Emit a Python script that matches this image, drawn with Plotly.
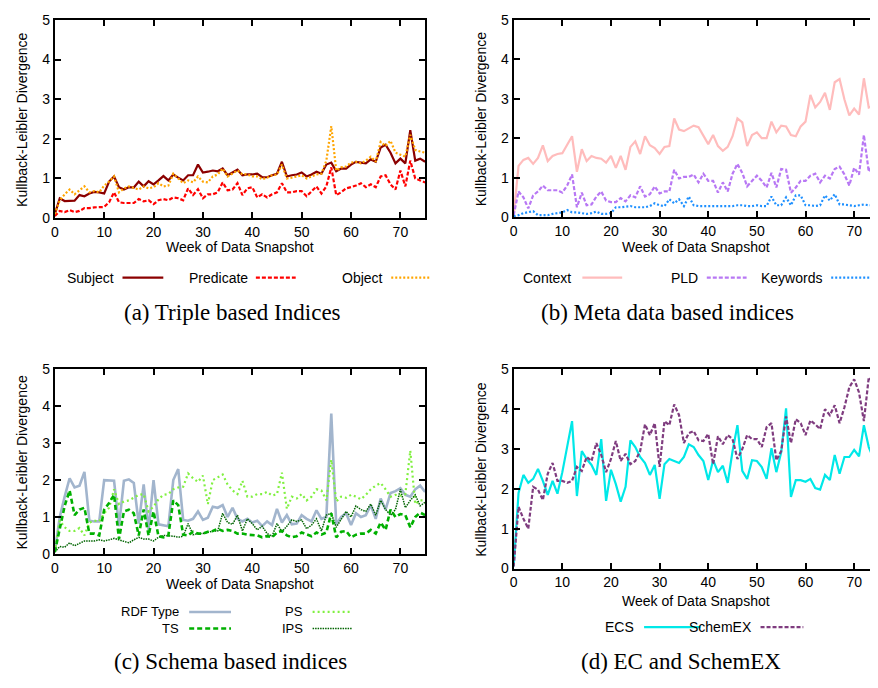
import plotly.graph_objects as go

OFF = 8                           # page body margin of the browser
W, H = 878 - OFF, 688 - 2 * OFF   # figure size so the page fits the window exactly
WEEKS = list(range(76))

# (a) Triple based indices
SUBJECT = [0.1,0.5,0.43,0.44,0.44,0.58,0.55,0.62,0.66,0.65,0.62,0.92,1.05,0.78,0.72,0.78,0.77,0.92,0.8,0.93,
           0.85,0.95,1.06,0.95,1.1,1.02,0.95,1.08,1.08,1.35,1.15,1.17,1.2,1.18,1.25,1.08,1.15,1.22,1.08,1.1,
           1.1,1.12,1.03,1.03,1.08,1.12,1.42,1.05,1.08,1.1,1.15,1.05,1.1,1.17,1.12,1.35,1.4,1.18,1.25,1.25,
           1.35,1.42,1.4,1.38,1.48,1.42,1.78,1.85,1.65,1.38,1.5,1.38,2.22,1.45,1.5,1.42]
PREDICATE = [0.05,0.18,0.15,0.2,0.15,0.18,0.25,0.25,0.27,0.27,0.28,0.4,0.65,0.4,0.38,0.38,0.38,0.48,0.42,0.45,
             0.35,0.45,0.48,0.45,0.52,0.5,0.45,0.75,0.58,0.73,0.5,0.6,0.6,0.65,0.9,0.7,0.72,0.88,0.58,0.75,
             0.78,0.52,0.6,0.52,0.6,0.65,0.88,0.65,0.65,0.68,0.68,0.55,0.68,0.8,0.62,0.8,1.28,0.58,0.65,0.75,
             0.78,0.82,0.88,0.78,0.85,0.78,1.05,1.08,0.85,0.72,1.2,0.8,1.45,1.0,0.95,0.9]
OBJECT = [0.1,0.45,0.6,0.72,0.6,0.7,0.8,0.65,0.68,0.65,0.82,0.92,1.05,0.65,0.75,0.8,0.75,0.72,0.8,0.75,
          0.78,0.88,0.8,0.82,1.12,1.0,0.88,0.95,0.9,1.05,0.92,0.9,1.05,1.1,1.25,1.05,1.12,1.2,1.1,1.1,
          1.05,1.05,0.98,1.02,1.08,1.1,1.35,1.0,1.02,1.05,1.08,1.0,1.05,1.1,1.12,1.45,2.32,1.2,1.28,1.3,
          1.4,1.42,1.38,1.45,1.55,1.42,1.92,1.82,1.95,1.65,1.6,1.55,2.1,1.72,1.68,1.65]

# (b) Meta data based indices
CONTEXT = [0.05,1.3,1.45,1.5,1.35,1.5,1.82,1.42,1.55,1.6,1.62,1.85,2.05,1.15,1.72,1.42,1.55,1.5,1.48,1.38,
           1.55,1.25,1.55,1.2,1.78,1.92,1.6,2.05,1.82,1.75,1.6,1.78,1.8,2.5,2.22,2.18,2.25,2.32,2.28,2.05,
           1.85,2.08,1.8,1.68,1.78,2.05,2.5,2.4,1.8,2.08,2.15,2.0,2.0,2.42,2.15,2.32,2.3,2.08,2.05,2.3,
           2.42,3.1,2.78,2.92,3.15,2.72,3.42,3.5,2.98,2.58,2.75,2.6,3.52,2.78,2.82,2.55]
PLD = [0.05,0.65,0.5,0.22,0.55,0.65,0.8,0.68,0.68,0.68,0.62,0.8,1.08,0.25,0.62,0.3,0.32,0.52,0.65,0.42,
       0.38,0.38,0.48,0.4,0.55,0.5,0.78,0.52,0.58,0.78,0.6,0.65,0.65,1.2,0.98,1.02,1.02,1.08,0.88,1.1,
       0.92,0.92,0.62,0.88,0.65,1.1,1.35,1.12,0.78,0.92,1.05,0.92,0.75,1.12,0.75,1.22,1.2,0.62,0.75,0.92,
       0.92,1.05,1.1,0.88,1.05,0.98,1.22,1.28,1.08,0.8,1.25,1.08,2.08,1.15,1.38,0.95]
KEYWORDS = [0.02,0.05,0.1,0.12,0.15,0.05,0.05,0.05,0.08,0.1,0.12,0.18,0.12,0.12,0.1,0.08,0.1,0.14,0.08,0.08,
            0.1,0.25,0.25,0.27,0.28,0.25,0.25,0.25,0.28,0.35,0.3,0.28,0.45,0.35,0.45,0.28,0.52,0.3,0.28,0.28,
            0.28,0.28,0.28,0.28,0.28,0.28,0.3,0.3,0.28,0.28,0.3,0.28,0.28,0.52,0.3,0.3,0.5,0.3,0.55,0.55,
            0.3,0.3,0.28,0.3,0.55,0.42,0.58,0.32,0.32,0.3,0.28,0.3,0.32,0.3,0.3,0.28]

# (c) Schema based indices
RDF_TYPE = [0.05,1.0,1.55,2.05,1.8,1.85,2.22,0.9,0.88,0.88,2.0,2.0,1.98,0.75,1.98,2.02,1.92,0.82,1.88,0.65,
            2.0,0.8,0.78,0.75,2.0,2.3,0.92,0.9,0.95,1.15,0.92,0.98,1.28,1.25,1.32,1.0,1.25,0.95,0.88,0.95,
            0.85,0.9,0.75,0.88,0.78,1.22,0.85,1.05,0.8,0.82,1.05,0.95,0.88,1.18,0.95,1.0,3.8,0.8,1.0,1.1,
            0.78,1.1,1.0,1.05,1.32,0.95,1.5,1.2,1.65,1.7,1.78,1.6,1.55,1.75,1.85,1.68]
TS = [0.05,0.7,1.3,1.72,1.05,1.2,1.25,0.55,0.55,0.5,1.2,1.38,1.6,0.4,1.15,1.2,1.1,0.5,1.2,0.5,
      1.15,0.48,0.45,0.5,1.45,1.32,0.52,0.5,0.6,0.55,0.55,0.6,0.62,0.68,0.62,0.65,0.62,0.55,0.55,0.52,
      0.5,0.5,0.45,0.48,0.45,0.58,0.62,0.5,0.45,0.48,0.58,0.52,0.48,0.58,0.52,0.58,1.1,0.45,0.6,0.62,
      0.45,0.52,0.55,0.55,0.65,0.55,0.85,0.65,1.2,1.0,1.08,1.05,0.72,1.0,1.12,1.05]
PS = [0.05,0.9,0.72,0.62,0.62,0.7,0.5,0.85,0.9,0.88,1.1,1.25,1.75,1.35,1.42,1.45,1.52,1.6,1.62,1.15,
      1.28,1.48,1.6,1.62,1.75,1.8,1.82,2.18,2.05,1.95,2.12,1.35,2.0,2.08,2.15,1.88,1.72,1.62,1.98,1.55,
      1.55,1.62,1.62,1.68,1.58,1.62,2.2,1.22,1.55,1.5,1.62,1.45,1.55,1.75,1.72,1.45,2.55,1.42,1.55,1.52,
      1.6,1.55,1.48,1.6,1.75,1.85,1.92,1.75,1.55,1.6,1.58,1.62,2.8,1.35,1.45,1.45]
IPS = [0.05,0.2,0.18,0.3,0.22,0.28,0.35,0.35,0.35,0.38,0.35,0.38,0.42,0.38,0.35,0.3,0.38,0.45,0.4,0.4,
       0.35,0.45,0.5,0.5,0.48,0.45,0.48,0.82,0.52,0.55,0.55,0.58,0.62,0.62,1.1,0.85,0.8,1.05,0.62,0.95,
       0.82,0.65,0.75,0.55,0.48,0.82,0.6,0.75,0.92,0.88,0.92,0.68,0.78,0.95,0.62,1.05,1.1,0.72,0.95,1.15,
       1.0,1.3,1.2,1.15,1.35,1.05,1.45,1.2,1.05,1.2,1.75,1.25,1.45,1.6,1.3,1.4]

# (d) EC and SchemEX
ECS = [0.05,1.9,2.35,2.15,2.25,2.5,2.2,1.85,2.2,1.88,2.42,3.05,3.7,1.82,2.95,2.75,2.6,2.35,3.25,1.7,
       2.48,2.12,1.68,2.05,3.22,3.05,2.8,2.65,2.35,2.6,1.75,2.62,2.75,2.7,2.65,2.8,3.12,3.05,2.85,2.7,
       2.22,2.72,2.42,2.58,2.15,2.95,3.6,2.45,2.25,2.72,2.7,2.55,2.25,3.02,2.42,2.92,4.02,1.8,2.22,2.22,
       2.18,2.25,2.02,1.98,2.35,2.22,2.85,2.38,2.8,2.8,2.98,2.82,3.6,3.05,2.75,2.65]
SCHEMEX = [0.05,1.55,1.25,1.0,2.05,1.98,1.72,2.38,2.65,2.2,2.2,2.15,2.2,2.55,2.45,2.8,2.7,3.15,2.85,2.42,
           2.75,3.2,2.7,2.88,2.62,2.7,2.95,3.62,3.35,3.65,2.55,3.7,3.6,4.12,3.85,3.15,3.4,3.45,3.22,3.2,
           3.38,2.62,3.32,3.12,3.35,3.25,2.75,3.0,3.35,3.25,3.25,3.05,3.55,3.65,2.72,2.95,3.82,3.15,3.75,3.65,
           3.35,3.72,3.62,3.5,4.0,3.85,4.1,3.65,4.05,4.55,4.75,4.42,3.7,4.8,4.65,4.72]

Y_TICKS = [0, 1, 2, 3, 4, 5]
X_TICKS = [0, 10, 20, 30, 40, 50, 60, 70]
Y_TITLE = "Kullback-Leibler Divergence"
X_TITLE = "Week of Data Snapshot"
CAPTIONS = ["(a) Triple based Indices", "(b) Meta data based indices",
            "(c) Schema based indices", "(d) EC and SchemEX"]

SANS = "Liberation Sans, Arial, sans-serif"
SERIF = "Liberation Serif, Times New Roman, serif"
FS = 14

def px(x):
    return (x - OFF) / W

def py(y):
    return 1 - (y - OFF) / H

# panel geometry in window pixels (left, right, top, bottom) and x ranges
PANELS = [
    dict(l=51, r=423, t=12, b=215, xr=[0, 75], right=True),
    dict(l=512, r=878, t=12, b=214, xr=[0, 74.9], right=False),
    dict(l=51, r=423, t=370, b=559, xr=[0, 75], right=True),
    dict(l=512, r=878, t=370, b=574, xr=[0, 74.9], right=False),
]

fig = go.Figure()

SERIES = [
    (0, "Subject", SUBJECT, "#8b0000", "solid", 2.2),
    (0, "Predicate", PREDICATE, "#ff0000", "4px,2px", 2.2),
    (0, "Object", OBJECT, "#ffa500", "2px,2px", 2.2),
    (1, "Context", CONTEXT, "#ffbcbc", "solid", 2.2),
    (1, "PLD", PLD, "#b878f4", "4px,2px", 2.2),
    (1, "Keywords", KEYWORDS, "#1e90ff", "2px,2px", 2.2),
    (2, "RDF Type", RDF_TYPE, "#a2b5cd", "solid", 2.6),
    (2, "PS", PS, "#80f040", "2px,3px", 2.2),
    (2, "IPS", IPS, "#006400", "1.5px,1px", 1.5),
    (2, "TS", TS, "#00b000", "5px,3px", 2.6),
    (3, "ECS", ECS, "#00e8e8", "solid", 2.2),
    (3, "SchemEX", SCHEMEX, "#7f3c7f", "4px,2px", 2.2),
]

for p, name, ys, col, dash, w in SERIES:
    suffix = "" if p == 0 else str(p + 1)
    fig.add_trace(go.Scatter(x=WEEKS, y=ys, mode="lines", name=name, showlegend=False,
                             xaxis="x" + suffix, yaxis="y" + suffix,
                             line=dict(color=col, dash=dash, width=w)))

layout = dict(width=W, height=H, margin=dict(l=0, r=0, t=0, b=0),
              paper_bgcolor="white", plot_bgcolor="white", showlegend=False)
annotations = []
shapes = []

for i, P in enumerate(PANELS):
    suffix = "" if i == 0 else str(i + 1)
    xa = dict(domain=[px(P["l"]), min(1.0, px(P["r"]))], range=P["xr"], anchor="y" + suffix,
              tickvals=X_TICKS, ticks="inside", ticklen=6, tickwidth=1.5, tickcolor="black",
              showline=True, linecolor="black", linewidth=2, mirror="ticks",
              showgrid=False, zeroline=False,
              tickfont=dict(family=SANS, size=FS, color="black"))
    ya = dict(domain=[py(P["b"]), py(P["t"])], range=[0, 5], anchor="x" + suffix,
              tickvals=Y_TICKS, ticks="inside", ticklen=6, tickwidth=1.5, tickcolor="black",
              showline=True, linecolor="black", linewidth=2,
              mirror="ticks" if P["right"] else False,
              showgrid=False, zeroline=False,
              tickfont=dict(family=SANS, size=FS, color="black"))
    layout["xaxis" + suffix] = xa
    layout["yaxis" + suffix] = ya
    annotations.append(dict(text=Y_TITLE, x=px(P["l"] - 33), y=py((P["t"] + P["b"]) / 2),
                            xref="paper", yref="paper", textangle=-90, showarrow=False,
                            xanchor="center", yanchor="middle",
                            font=dict(family=SANS, size=FS, color="black")))

x_titles = [(237, 245), (695, 245), (237, 590), (695, 607)]
for (x, y) in x_titles:
    annotations.append(dict(text=X_TITLE, x=px(x), y=py(y), xref="paper", yref="paper",
                            showarrow=False, xanchor="center", yanchor="middle",
                            font=dict(family=SANS, size=FS, color="black")))

caps = [(230, 312), (667, 312), (228, 669), (680, 669)]
for txt, (x, y) in zip(CAPTIONS, caps):
    annotations.append(dict(text=txt, x=px(x), y=py(y), xref="paper", yref="paper",
                            showarrow=False, xanchor="center", yanchor="middle",
                            font=dict(family=SERIF, size=23, color="black")))

# gnuplot-style keys: (label, text right edge, line start, line end, y, font size)
KEYS = [
    ("Subject", 111, 119, 160, 276, FS),
    ("Predicate", 246, 253, 293, 276, FS),
    ("Object", 382, 389, 428, 276, FS),
    ("Context", 571, 581, 621, 276, FS),
    ("PLD", 698, 706, 746, 276, FS),
    ("Keywords", 823, 831, 871, 276, FS),
    ("RDF Type", 177, 186, 228, 618.5, 13),
    ("PS", 301, 310, 350, 618.5, 13),
    ("TS", 177, 186, 228, 635.5, 13),
    ("IPS", 301, 310, 350, 635.5, 13),
    ("ECS", 634, 643, 700, 634, FS),
    ("SchemEX", 752, 760, 803, 634, FS),
]
style = {s[1]: (s[3], s[4], s[5]) for s in SERIES}
for name, tx, l0, l1, y, fs in KEYS:
    annotations.append(dict(text=name, x=px(tx), y=py(y), xref="paper", yref="paper",
                            showarrow=False, xanchor="right", yanchor="middle",
                            borderpad=0, font=dict(family=SANS, size=fs, color="black")))
    col, dash, w = style[name]
    shapes.append(dict(type="line", xref="paper", yref="paper", x0=px(l0), x1=px(l1),
                       y0=py(y), y1=py(y), line=dict(color=col, dash=dash, width=w)))

layout["annotations"] = annotations
layout["shapes"] = shapes
fig.update_layout(**layout)
fig.write_html("out.html")
